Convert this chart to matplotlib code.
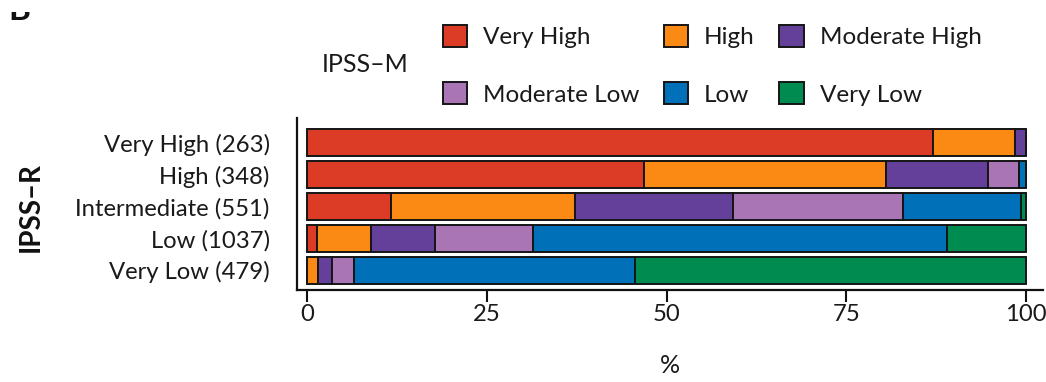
import numpy as np
import matplotlib
matplotlib.use("Agg")
import matplotlib.pyplot as plt
from matplotlib.patches import Patch
from matplotlib.transforms import Bbox

plt.rcParams['font.family'] = ['Lato', 'DejaVu Sans']

# IPSS-R groups (top to bottom) with patient counts
ipss_r = ["Very High (263)", "High (348)", "Intermediate (551)", "Low (1037)", "Very Low (479)"]

# IPSS-M categories and the share (%) of each IPSS-R group falling into them
ipss_m = ["Very High", "High", "Moderate High", "Moderate Low", "Low", "Very Low"]
very_high = [87.1, 46.9, 11.6, 1.3, 0.0]
high = [11.4, 33.7, 25.7, 7.5, 1.4]
moderate_high = [1.5, 14.1, 22.0, 9.0, 2.0]
moderate_low = [0.0, 4.3, 23.6, 13.6, 3.1]
low = [0.0, 1.0, 16.5, 57.7, 39.1]
very_low = [0.0, 0.0, 0.6, 10.9, 54.4]

colors = ["#DC3B26", "#FA8A14", "#64409A", "#A975B5", "#0071B9", "#008C50"]
x_ticks = [0, 25, 50, 75, 100]

W, H = 1046, 382
fig = plt.figure(figsize=(W / 100, H / 100), dpi=100)
ax = fig.add_axes([0.2844, 0.2421, 0.7127, 0.4490])

ypos = np.arange(len(ipss_r))[::-1]
left = np.zeros(len(ipss_r))
series = [very_high, high, moderate_high, moderate_low, low, very_low]
for vals, col in zip(series, colors):
    vals = np.asarray(vals)
    ax.barh(ypos, vals, left=left, height=0.83, color=col,
            edgecolor="#151515", linewidth=1.4)
    left += vals

ax.set_xlim(-1.39, 102.4)
ax.set_ylim(-0.60, 4.775)
ax.set_yticks(ypos)
ax.set_yticklabels(ipss_r, fontsize=17.2, color="#1a1a1a")
ax.set_xticks(x_ticks)
ax.set_xticklabels([str(t) for t in x_ticks], fontsize=17.2, color="#1a1a1a")
ax.tick_params(axis="y", length=0, pad=20)
ax.tick_params(axis="x", length=8.5, width=1.5, color="#111111", pad=2)

for side in ("top", "right"):
    ax.spines[side].set_visible(False)
for side in ("left", "bottom"):
    ax.spines[side].set_linewidth(1.6)
    ax.spines[side].set_color("#111111")

ax.set_xlabel("%", fontsize=18, color="#1a1a1a", labelpad=21)
fig.text(0.029, 0.457, "IPSS–R", rotation=90, fontsize=20, fontweight="bold",
         ha="center", va="center", color="#111111")

# Legend: columns read Very High / Moderate Low, High / Low, Moderate High / Very Low
handles = [Patch(facecolor=c, edgecolor="#151515", linewidth=1.4) for c in colors]
order = [0, 3, 1, 4, 2, 5]
fig.legend([handles[i] for i in order], [ipss_m[i] for i in order],
           ncol=3, loc="upper left", bbox_to_anchor=(0.4136, 1 - 15 / H),
           frameon=False, fontsize=17.5, handlelength=1.0, handleheight=1.0,
           handletextpad=0.66, columnspacing=1.0, labelspacing=1.4,
           borderaxespad=0.0, borderpad=0.42, labelcolor="#1a1a1a")
fig.text(365 / W, 1 - 65 / H, "IPSS–M", fontsize=18, ha="center", va="center",
         color="#1a1a1a")

# Panel letter, only its lower edge shows inside the canvas
panel = fig.text(8 / W, 1 - 20 / H, "B", fontsize=24, fontweight="bold",
                 ha="left", va="baseline", color="#111111")
panel.set_clip_box(Bbox.from_extents(0, H - 22, 40, H - 12))
panel.set_clip_on(True)

fig.savefig("out.png", dpi=100)
